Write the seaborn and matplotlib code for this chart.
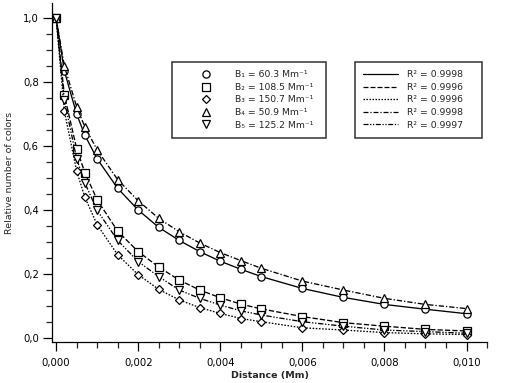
import numpy as np
import pandas as pd
import matplotlib
matplotlib.use("Agg")
import matplotlib.pyplot as plt
from matplotlib.lines import Line2D
from matplotlib.ticker import FuncFormatter, MultipleLocator
import seaborn as sns

# Distance values (Mm)
distance = [0, 0.0002, 0.0005, 0.0007, 0.001, 0.0015, 0.002, 0.0025, 0.003,
            0.0035, 0.004, 0.0045, 0.005, 0.006, 0.007, 0.008, 0.009, 0.010]

# relative number of colors
b1 = [1.0, 0.835, 0.700, 0.634, 0.560, 0.468, 0.400, 0.346, 0.305,
      0.270, 0.240, 0.215, 0.192, 0.155, 0.127, 0.105, 0.090, 0.076]
b2 = [1.0, 0.760, 0.592, 0.517, 0.432, 0.334, 0.270, 0.222, 0.181,
      0.150, 0.126, 0.106, 0.091, 0.067, 0.048, 0.037, 0.027, 0.022]
b3 = [1.0, 0.710, 0.522, 0.440, 0.354, 0.260, 0.198, 0.152, 0.119,
      0.095, 0.077, 0.061, 0.051, 0.032, 0.025, 0.017, 0.013, 0.011]
b4 = [1.0, 0.850, 0.723, 0.660, 0.588, 0.495, 0.429, 0.374, 0.332,
      0.297, 0.267, 0.242, 0.218, 0.178, 0.150, 0.124, 0.105, 0.092]
b5 = [1.0, 0.744, 0.560, 0.485, 0.399, 0.305, 0.239, 0.192, 0.150,
      0.124, 0.103, 0.085, 0.072, 0.051, 0.037, 0.025, 0.020, 0.015]

series_names = ["B1", "B2", "B3", "B4", "B5"]
b_labels = ["B₁ = 60.3 Mm⁻¹", "B₂ = 108.5 Mm⁻¹", "B₃ = 150.7 Mm⁻¹",
            "B₄ = 50.9 Mm⁻¹", "B₅ = 125.2 Mm⁻¹"]
r2_labels = ["R² = 0.9998", "R² = 0.9996", "R² = 0.9996",
             "R² = 0.9998", "R² = 0.9997"]

markers = ["o", "s", "D", "^", "v"]
msizes = [5.2, 5.6, 3.8, 5.4, 5.4]
linestyles = ["-", (0, (4, 1.6)), (0, (1.2, 1.2)), (0, (4, 1.5, 1, 1.5)),
              (0, (4, 1.3, 1, 1.3, 1, 1.3))]

df = pd.DataFrame({
    "distance": distance * 5,
    "value": b1 + b2 + b3 + b4 + b5,
    "series": np.repeat(series_names, len(distance)),
})

sns.set_style("ticks")
plt.rcParams["font.family"] = ["DejaVu Sans"]

fig = plt.figure(figsize=(5.07, 3.83), dpi=100)
ax = fig.add_axes([0.1026, 0.107, 0.858, 0.885])

for name, m, ms, ls in zip(series_names, markers, msizes, linestyles):
    sub = df[df["series"] == name]
    sns.lineplot(data=sub, x="distance", y="value", ax=ax, color="black",
                 linestyle=ls, linewidth=0.95, marker=m, markersize=ms,
                 markerfacecolor="white", markeredgecolor="black",
                 markeredgewidth=0.9, legend=False, zorder=3)

ax.set_xlim(-0.0001, 0.0105)
ax.set_ylim(-0.0125, 1.047)
ax.xaxis.set_major_locator(MultipleLocator(0.002))
ax.xaxis.set_minor_locator(MultipleLocator(0.0005))
ax.yaxis.set_major_locator(MultipleLocator(0.2))
ax.yaxis.set_minor_locator(MultipleLocator(0.05))
ax.xaxis.set_major_formatter(FuncFormatter(lambda v, p: f"{v:.3f}".replace(".", ",")))
ax.yaxis.set_major_formatter(FuncFormatter(lambda v, p: f"{v:.1f}".replace(".", ",")))
ax.tick_params(which="major", length=6.5, width=0.9, labelsize=7.3, colors="black")
ax.tick_params(which="minor", length=4.3, width=0.9)
ax.tick_params(axis="x", pad=5)
ax.tick_params(axis="y", pad=3)
for sp in ["top", "right"]:
    ax.spines[sp].set_visible(False)
for sp in ["left", "bottom"]:
    ax.spines[sp].set_linewidth(0.9)
    ax.spines[sp].set_color("black")

ax.set_xlabel("Distance (Mm)", fontsize=6.8, fontweight="semibold", labelpad=2)
ax.set_ylabel("Relative number of colors", fontsize=6.8, labelpad=6)

lfs = 6.7
h1 = [Line2D([], [], linestyle="none", marker=m, markersize=ms, color="black",
             markerfacecolor="white", markeredgewidth=0.9)
      for m, ms in zip(markers, msizes)]
leg1 = ax.legend(h1, b_labels, loc="upper left",
                 bbox_to_anchor=(172 / 507, 1 - 62 / 383 - 0.01, (326 - 172) / 507, 0.01),
                 bbox_transform=fig.transFigure, mode="expand", fontsize=lfs,
                 frameon=True, fancybox=False, handlelength=5.6, handletextpad=0.3,
                 borderpad=0.9, labelspacing=0.38, borderaxespad=0)
leg1.get_frame().set_edgecolor("black")
leg1.get_frame().set_linewidth(1.1)
ax.add_artist(leg1)

h2 = [Line2D([], [], linestyle=ls, color="black", linewidth=0.9) for ls in linestyles]
leg2 = ax.legend(h2, r2_labels, loc="upper left",
                 bbox_to_anchor=(355 / 507, 1 - 62 / 383 - 0.01, (482 - 355) / 507, 0.01),
                 bbox_transform=fig.transFigure, mode="expand", fontsize=lfs,
                 frameon=True, fancybox=False, handlelength=3.7, handletextpad=1.0,
                 borderpad=0.9, labelspacing=0.38, borderaxespad=0)
leg2.get_frame().set_edgecolor("black")
leg2.get_frame().set_linewidth(1.1)

fig.savefig("out.png", dpi=100)
